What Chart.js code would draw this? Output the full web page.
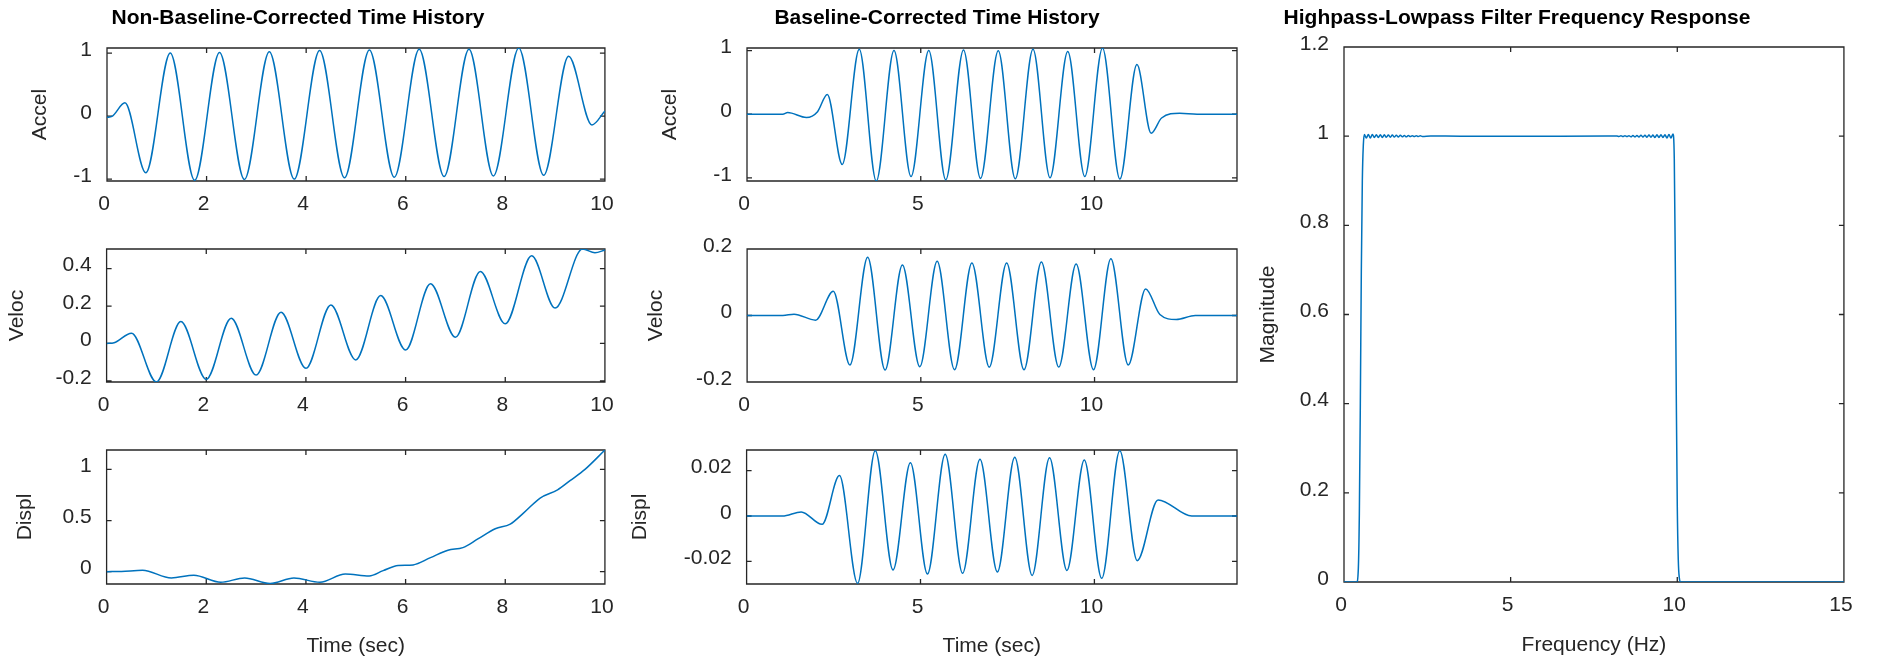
<!DOCTYPE html>
<html>
<head>
<meta charset="utf-8">
<script src="https://cdn.jsdelivr.net/npm/chart.js@4.4.1/dist/chart.umd.min.js"></script>
<style>
  html, body { margin: 0; padding: 0; background: #fff; width: 1878px; height: 658px; overflow: hidden; }
  canvas { position: absolute; }
</style>
</head>
<body>
<canvas id="rawAccel"></canvas>
<canvas id="rawVeloc"></canvas>
<canvas id="rawDispl"></canvas>
<canvas id="corrAccel"></canvas>
<canvas id="corrVeloc"></canvas>
<canvas id="corrDispl"></canvas>
<canvas id="filterResp"></canvas>
<script>
// ---- Non-baseline-corrected record (time in s) ----
const rawAccelTime  = [0, 0.1, 0.36, 0.78, 1.27, 1.76, 2.26, 2.76, 3.26, 3.76, 4.27, 4.77, 5.27, 5.77, 6.27, 6.77, 7.27, 7.76, 8.27, 8.77, 9.27, 9.74, 10];
const rawAccelValue = [-0.02, -0.005, 0.21, -0.90, 1.00, -1.02, 1.01, -1.005, 1.02, -1.0, 1.04, -0.98, 1.05, -0.97, 1.06, -0.96, 1.06, -0.95, 1.08, -0.94, 0.95, -0.14, 0.08];

const rawVelocTime  = [0, 0.15, 0.5, 1.0, 1.49, 2.0, 2.5, 3.0, 3.5, 4.0, 4.5, 5.0, 5.5, 6.0, 6.5, 7.0, 7.5, 8.0, 8.53, 9.0, 9.55, 9.8, 10];
const rawVelocValue = [0, 0.004, 0.055, -0.206, 0.117, -0.192, 0.135, -0.169, 0.167, -0.133, 0.206, -0.088, 0.256, -0.035, 0.319, 0.033, 0.385, 0.105, 0.469, 0.189, 0.505, 0.485, 0.5];

const rawDisplTime  = [0, 0.3, 0.72, 1.3, 1.75, 2.29, 2.77, 3.28, 3.76, 4.28, 4.79, 5.27, 5.55, 5.85, 6.15, 6.5, 6.85, 7.15, 7.45, 7.8, 8.1, 8.37, 8.7, 9.05, 9.3, 9.6, 10];
const rawDisplValue = [0, 0.002, 0.013, -0.062, -0.035, -0.104, -0.062, -0.117, -0.062, -0.104, -0.023, -0.042, 0.01, 0.06, 0.066, 0.137, 0.21, 0.235, 0.32, 0.42, 0.465, 0.575, 0.72, 0.80, 0.89, 1.0, 1.19];

// ---- Baseline-corrected (padded, filtered) record ----
const corrAccelTime  = [0, 1.03, 1.17, 1.71, 2.03, 2.31, 2.74, 3.23, 3.72, 4.23, 4.72, 5.23, 5.72, 6.23, 6.72, 7.23, 7.72, 8.23, 8.72, 9.23, 9.72, 10.23, 10.73, 11.22, 11.63, 11.93, 12.45, 12.95, 14.1];
const corrAccelValue = [0, 0, 0.025, -0.052, 0.04, 0.31, -0.79, 1.02, -1.05, 1.0, -0.98, 1.0, -1.03, 1.01, -1.01, 0.995, -1.015, 1.02, -1.0, 0.985, -0.98, 1.04, -1.02, 0.78, -0.30, -0.06, 0.015, 0, 0];

const corrVelocTime  = [0, 1.03, 1.35, 1.97, 2.48, 2.96, 3.47, 3.97, 4.47, 4.97, 5.47, 5.97, 6.47, 6.97, 7.47, 7.97, 8.47, 8.97, 9.47, 9.97, 10.47, 10.97, 11.47, 11.88, 12.35, 12.9, 14.1];
const corrVelocValue = [0, 0, 0.004, -0.014, 0.073, -0.149, 0.175, -0.164, 0.152, -0.154, 0.163, -0.163, 0.158, -0.155, 0.158, -0.163, 0.161, -0.155, 0.155, -0.163, 0.171, -0.149, 0.08, 0.003, -0.012, 0, 0];

const corrDisplTime  = [0, 1.03, 1.57, 2.17, 2.67, 3.19, 3.7, 4.21, 4.71, 5.2, 5.71, 6.21, 6.71, 7.21, 7.71, 8.21, 8.71, 9.21, 9.71, 10.21, 10.73, 11.23, 11.83, 12.8, 14.1];
const corrDisplValue = [0, 0, 0.0018, -0.0037, 0.0178, -0.0297, 0.0288, -0.0238, 0.0235, -0.0256, 0.0272, -0.0253, 0.025, -0.0247, 0.0259, -0.0262, 0.0257, -0.024, 0.0247, -0.0275, 0.0288, -0.0197, 0.0071, 0, 0];

// ---- Band-pass filter magnitude response (Hz) ----
const filterFreq = [
  0, 0.38, 0.43, 0.46, 0.49, 0.52, 0.55, 0.58, 0.61,
  0.67, 0.73, 0.79, 0.85, 0.91, 0.97, 1.03, 1.09, 1.15, 1.21, 1.27, 1.33, 1.39, 1.45, 1.51,
  1.57, 1.63, 1.69, 1.75, 1.81, 1.87, 1.93, 1.99, 2.05, 2.11, 2.17, 2.23, 2.29, 2.35,
  2.6, 3.5, 5.0, 6.5, 7.9,
  8.19, 8.25, 8.31, 8.37, 8.43, 8.49, 8.55, 8.61, 8.67, 8.73, 8.79, 8.85, 8.91, 8.97, 9.03,
  9.09, 9.15, 9.21, 9.27, 9.33, 9.39, 9.45, 9.51, 9.57, 9.63, 9.69, 9.75, 9.81, 9.87,
  9.91, 9.94, 9.97, 10.0, 10.03, 10.06, 10.1, 15
];
const filterMag = [
  0, 0, 0.03, 0.15, 0.4, 0.7, 0.9, 0.98, 1.004,
  0.996, 1.004, 0.996, 1.004, 0.997, 1.003, 0.997, 1.003, 0.997, 1.003, 0.9975, 1.0025, 0.9975, 1.0025, 0.998,
  1.002, 0.998, 1.002, 0.9985, 1.0015, 0.9985, 1.0015, 0.999, 1.001, 0.999, 1.001, 0.9992, 1.0008, 0.9995,
  1.0003, 1.0, 1.0, 1.0, 1.0003,
  1.0005, 0.9992, 1.0008, 0.999, 1.001, 0.999, 1.001, 0.9985, 1.0015, 0.9985, 1.0015, 0.998, 1.002, 0.998, 1.002,
  0.9975, 1.0025, 0.9975, 1.0025, 0.997, 1.003, 0.997, 1.003, 0.997, 1.003, 0.996, 1.004, 0.996, 1.005,
  0.95, 0.72, 0.42, 0.17, 0.05, 0.01, 0, 0
];

// ---- Tick values and labels ----
const rawTimeTicks = [0, 2, 4, 6, 8, 10];
const rawTimeTickLabels = ['0', '2', '4', '6', '8', '10'];
const corrTimeTicks = [0, 5, 10];
const corrTimeTickLabels = ['0', '5', '10'];
const freqTicks = [0, 5, 10, 15];
const freqTickLabels = ['0', '5', '10', '15'];

const accelTicks = [-1, 0, 1];
const accelTickLabels = ['-1', '0', '1'];
const rawVelocTicks = [-0.2, 0, 0.2, 0.4];
const rawVelocTickLabels = ['-0.2', '0', '0.2', '0.4'];
const rawDisplTicks = [0, 0.5, 1];
const rawDisplTickLabels = ['0', '0.5', '1'];
const corrVelocTicks = [-0.2, 0, 0.2];
const corrVelocTickLabels = ['-0.2', '0', '0.2'];
const corrDisplTicks = [-0.02, 0, 0.02];
const corrDisplTickLabels = ['-0.02', '0', '0.02'];
const magTicks = [0, 0.2, 0.4, 0.6, 0.8, 1, 1.2];
const magTickLabels = ['0', '0.2', '0.4', '0.6', '0.8', '1', '1.2'];

// ---- Styling ----
const FONT = "'Liberation Sans', Arial, Helvetica, sans-serif";
const TEXT_COLOR = '#262626';
const AXIS_COLOR = '#262626';
const LINE_COLOR = '#0072BD';
const TICK_SIZE = 21, LABEL_SIZE = 21, TITLE_SIZE = 21;
const TICK_LEN = 5;
const RIGHT_PAD = 16;

Chart.defaults.font.family = FONT;
Chart.defaults.color = TEXT_COLOR;

// Axes box with inward tick marks on all four sides (drawn beneath the trace).
const boxAxes = {
  id: 'boxAxes',
  beforeDatasetsDraw(chart) {
    const { ctx, chartArea: { left, right, top, bottom } } = chart;
    const xs = chart.scales.x, ys = chart.scales.y;
    ctx.save();
    ctx.strokeStyle = AXIS_COLOR;
    ctx.lineWidth = 1.3;
    ctx.beginPath();
    for (const t of xs.ticks) {
      const px = xs.getPixelForValue(t.value);
      ctx.moveTo(px, bottom); ctx.lineTo(px, bottom - TICK_LEN);
      ctx.moveTo(px, top); ctx.lineTo(px, top + TICK_LEN);
    }
    for (const t of ys.ticks) {
      const py = ys.getPixelForValue(t.value);
      ctx.moveTo(left, py); ctx.lineTo(left + TICK_LEN, py);
      ctx.moveTo(right, py); ctx.lineTo(right - TICK_LEN, py);
    }
    ctx.rect(left, top, right - left, bottom - top);
    ctx.stroke();
    ctx.restore();
  }
};

// Page layout of each subplot: plot box, y-label centre, optional title / x-label centres.
const panels = [
  { id: 'rawAccel', t: rawAccelTime, v: rawAccelValue,
    xMax: 10, xTicks: rawTimeTicks, xLabels: rawTimeTickLabels,
    yMin: -1.03, yMax: 1.08, yTicks: accelTicks, yLabels: accelTickLabels, yTitle: 'Accel',
    title: 'Non-Baseline-Corrected Time History',
    plot: { l: 107, t: 48, r: 611, b: 181 }, yTitleX: 40, titleX: 298, titleY: 18.5, canvasTop: 0, canvasBottom: 222 },
  { id: 'rawVeloc', t: rawVelocTime, v: rawVelocValue,
    xMax: 10, xTicks: rawTimeTicks, xLabels: rawTimeTickLabels,
    yMin: -0.206, yMax: 0.505, yTicks: rawVelocTicks, yLabels: rawVelocTickLabels, yTitle: 'Veloc',
    plot: { l: 107, t: 249, r: 611, b: 382 }, yTitleX: 18, canvasTop: 215, canvasBottom: 424 },
  { id: 'rawDispl', t: rawDisplTime, v: rawDisplValue,
    xMax: 10, xTicks: rawTimeTicks, xLabels: rawTimeTickLabels,
    yMin: -0.121, yMax: 1.19, yTicks: rawDisplTicks, yLabels: rawDisplTickLabels, yTitle: 'Displ',
    xTitle: 'Time (sec)', xTitleY: 646.7,
    plot: { l: 107, t: 450, r: 611, b: 584 }, yTitleX: 26, canvasTop: 416, canvasBottom: 662 },
  { id: 'corrAccel', t: corrAccelTime, v: corrAccelValue,
    xMax: 14.1, xTicks: corrTimeTicks, xLabels: corrTimeTickLabels,
    yMin: -1.05, yMax: 1.04, yTicks: accelTicks, yLabels: accelTickLabels, yTitle: 'Accel',
    title: 'Baseline-Corrected Time History',
    plot: { l: 747, t: 48, r: 1237, b: 181 }, yTitleX: 670.4, titleX: 937, titleY: 18.5, canvasTop: 0, canvasBottom: 222 },
  { id: 'corrVeloc', t: corrVelocTime, v: corrVelocValue,
    xMax: 14.1, xTicks: corrTimeTicks, xLabels: corrTimeTickLabels,
    yMin: -0.2, yMax: 0.2, yTicks: corrVelocTicks, yLabels: corrVelocTickLabels, yTitle: 'Veloc',
    plot: { l: 747, t: 249, r: 1237, b: 382 }, yTitleX: 656.5, canvasTop: 215, canvasBottom: 424 },
  { id: 'corrDispl', t: corrDisplTime, v: corrDisplValue,
    xMax: 14.1, xTicks: corrTimeTicks, xLabels: corrTimeTickLabels,
    yMin: -0.030, yMax: 0.0291, yTicks: corrDisplTicks, yLabels: corrDisplTickLabels, yTitle: 'Displ',
    xTitle: 'Time (sec)', xTitleY: 646.7,
    plot: { l: 747, t: 450, r: 1237, b: 584 }, yTitleX: 641, canvasTop: 416, canvasBottom: 662 },
  { id: 'filterResp', t: filterFreq, v: filterMag,
    xMax: 15, xTicks: freqTicks, xLabels: freqTickLabels,
    yMin: 0, yMax: 1.2, yTicks: magTicks, yLabels: magTickLabels, yTitle: 'Magnitude',
    title: 'Highpass-Lowpass Filter Frequency Response',
    xTitle: 'Frequency (Hz)', xTitleY: 645,
    plot: { l: 1344, t: 47, r: 1850, b: 582 }, yTitleX: 1268.7, titleX: 1517, titleY: 18.5, canvasTop: 0, canvasBottom: 662 }
];

const labelHalf = LABEL_SIZE * 1.2 / 2;
const titleLine = TITLE_SIZE * 1.2;
const tickHalf = TICK_SIZE * 1.2 / 2;

for (const p of panels) {
  // left edge of the canvas: set by the centred title (if any) and the y-label position
  let canvasLeft, yTitlePad;
  if (p.title) {
    canvasLeft = 2 * p.titleX - p.plot.r;
    yTitlePad = p.yTitleX - canvasLeft - labelHalf;
  } else {
    canvasLeft = p.yTitleX - labelHalf;
    yTitlePad = 0;
  }
  const canvasRight = p.plot.r + RIGHT_PAD;
  const width = Math.round(canvasRight - canvasLeft);
  const height = p.canvasBottom - p.canvasTop;
  const yAxisW = p.plot.l - canvasLeft;
  const xAxisH = p.canvasBottom - p.plot.b;
  const topPad = p.title ? 0 : p.plot.t - p.canvasTop;
  const titlePadTop = p.title ? p.titleY - p.canvasTop - titleLine / 2 : 0;
  const titlePadBottom = p.title ? p.plot.t - p.canvasTop - titleLine - titlePadTop : 0;
  const xTitlePad = p.xTitle ? p.canvasBottom - labelHalf - p.xTitleY : 0;
  const xTickPad = 23 - tickHalf;

  const cv = document.getElementById(p.id);
  cv.width = width; cv.height = height;
  cv.style.left = canvasLeft + 'px';
  cv.style.top = p.canvasTop + 'px';
  cv.style.width = width + 'px';
  cv.style.height = height + 'px';

  const points = p.t.map((x, i) => ({ x, y: p.v[i] }));

  new Chart(cv, {
    type: 'line',
    data: {
      datasets: [{
        data: points,
        borderColor: LINE_COLOR,
        borderWidth: 1.5,
        pointRadius: 0,
        fill: false,
        cubicInterpolationMode: 'monotone'
      }]
    },
    options: {
      responsive: false,
      animation: false,
      devicePixelRatio: 1,
      events: [],
      layout: { padding: { left: 0, top: topPad, right: RIGHT_PAD, bottom: 0 } },
      plugins: {
        legend: { display: false },
        tooltip: { enabled: false },
        title: {
          display: !!p.title,
          text: p.title || '',
          color: '#000',
          font: { size: TITLE_SIZE, weight: 'bold' },
          padding: { top: titlePadTop, bottom: titlePadBottom }
        }
      },
      scales: {
        x: {
          type: 'linear',
          min: 0, max: p.xMax,
          grid: { display: false, drawTicks: false },
          border: { display: false },
          afterBuildTicks: s => { s.ticks = p.xTicks.map(v => ({ value: v })); },
          afterFit: s => { s.height = xAxisH; },
          ticks: {
            autoSkip: false, maxRotation: 0,
            font: { size: TICK_SIZE }, color: TEXT_COLOR,
            padding: xTickPad, labelOffset: -3,
            callback: (v, i) => p.xLabels[i]
          },
          title: {
            display: !!p.xTitle,
            text: p.xTitle || '',
            color: TEXT_COLOR,
            font: { size: LABEL_SIZE },
            padding: { top: 0, bottom: xTitlePad }
          }
        },
        y: {
          type: 'linear',
          min: p.yMin, max: p.yMax,
          grid: { display: false, drawTicks: false },
          border: { display: false },
          afterBuildTicks: s => { s.ticks = p.yTicks.map(v => ({ value: v })); },
          afterFit: s => { s.width = yAxisW; },
          ticks: {
            font: { size: TICK_SIZE }, color: TEXT_COLOR,
            padding: 15, labelOffset: -3,
            callback: (v, i) => p.yLabels[i]
          },
          title: {
            display: true,
            text: p.yTitle,
            color: TEXT_COLOR,
            font: { size: LABEL_SIZE },
            padding: { top: yTitlePad, bottom: 0 }
          }
        }
      }
    },
    plugins: [boxAxes]
  });
}
</script>
</body>
</html>
